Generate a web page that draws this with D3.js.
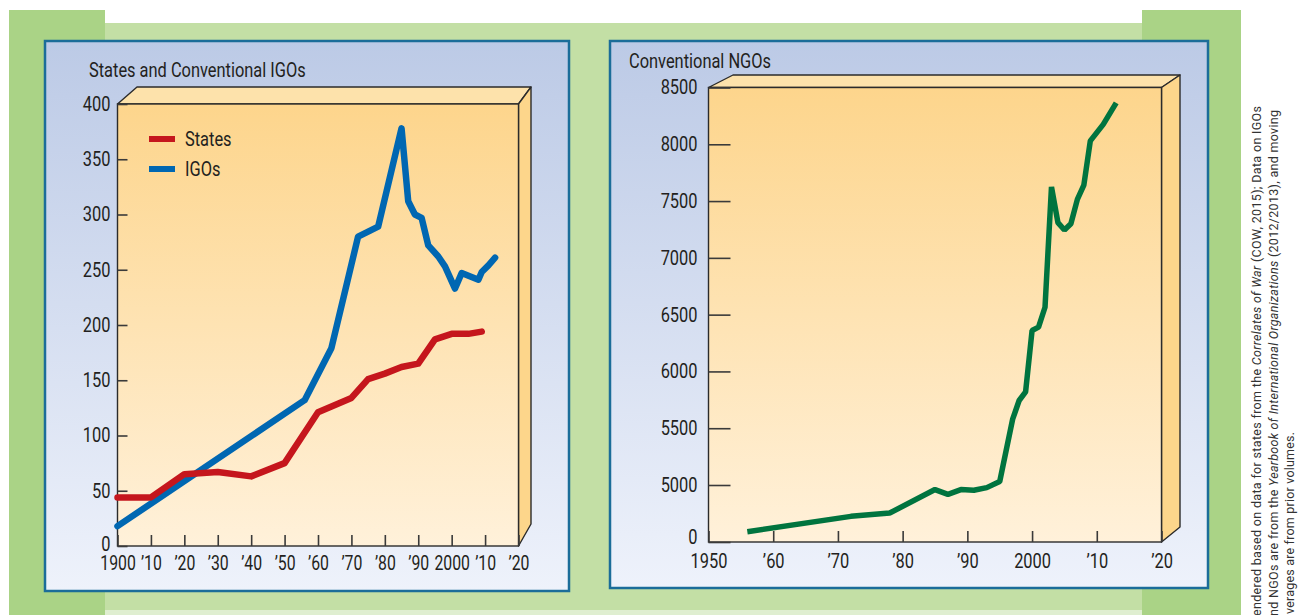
<!DOCTYPE html>
<html>
<head>
<meta charset="utf-8">
<script src="https://cdn.jsdelivr.net/npm/d3@7"></script>
<style>
  html, body { margin: 0; padding: 0; background: #ffffff; }
  svg { display: block; }
  text { font-family: Roboto, 'Liberation Sans', sans-serif; fill: #231f20; }
</style>
</head>
<body>
<script>
// ---------- data ----------
const stateYears  = [1900, 1910, 1920, 1930, 1940, 1950, 1960, 1970, 1975, 1980, 1985, 1990, 1995, 2000, 2005, 2009];
const stateValues = [44, 44, 65, 67, 63, 75, 121, 134, 151, 156, 162, 165, 187, 192, 192, 194];

const igoYears  = [1900, 1956, 1964, 1972, 1978, 1985, 1987, 1989, 1991, 1993, 1996, 1998, 2001, 2003, 2008, 2009, 2011, 2013];
const igoValues = [18, 132, 179, 280, 289, 378, 312, 300, 297, 272, 262, 253, 233, 247, 241, 248, 254, 261];

const ngoYears  = [1956, 1972, 1978, 1985, 1987, 1989, 1991, 1993, 1995, 1997, 1998, 1999, 2000, 2001, 2002, 2003, 2004, 2005, 2006, 2007, 2008, 2009, 2011, 2013];
const ngoValues = [900, 2250, 2540, 4600, 4180, 4600, 4535, 4770, 5030, 5580, 5744, 5820, 6360, 6390, 6565, 7625, 7310, 7245, 7300, 7515, 7640, 8030, 8175, 8365];

const leftXTicks   = [1900, 1910, 1920, 1930, 1940, 1950, 1960, 1970, 1980, 1990, 2000, 2010, 2020];
const leftXLabels  = ["1900", "\u201910", "\u201920", "\u201930", "\u201940", "\u201950", "\u201960", "\u201970", "\u201980", "\u201990", "2000", "\u201910", "\u201920"];
const leftYTicks   = [0, 50, 100, 150, 200, 250, 300, 350, 400];

const rightXTicks  = [1950, 1960, 1970, 1980, 1990, 2000, 2010, 2020];
const rightXLabels = ["1950", "\u201960", "\u201970", "\u201980", "\u201990", "2000", "\u201910", "\u201920"];
const rightYTicks  = [0, 5000, 5500, 6000, 6500, 7000, 7500, 8000, 8500];

const leftTitle  = "States and Conventional IGOs";
const rightTitle = "Conventional NGOs";
const legendLabels = ["States", "IGOs"];

const noteLines = [
  [["endered based on data for states from the ", false], ["Correlates of War", true], [" (COW, 2015); Data on IGOs", false]],
  [["nd NGOs are from the ", false], ["Yearbook of International Organizations", true], [" (2012/2013), and moving", false]],
  [["verages are from prior volumes.", false]]
];

// ---------- drawing ----------
const W = 1310, H = 615;
const COND = 0.82;
const svg = d3.select("body").append("svg").attr("width", W).attr("height", H);
const defs = svg.append("defs");

function condense(sel, k) {
  sel.each(function () {
    const n = this.getComputedTextLength();
    d3.select(this).attr("textLength", n * k).attr("lengthAdjust", "spacingAndGlyphs");
  });
}

const pg = defs.append("linearGradient").attr("id", "panelGrad").attr("x1", 0).attr("y1", 0).attr("x2", 0).attr("y2", 1);
pg.append("stop").attr("offset", "0%").attr("stop-color", "#bccae6");
pg.append("stop").attr("offset", "100%").attr("stop-color", "#eef2fb");

const fg = defs.append("linearGradient").attr("id", "faceGrad").attr("x1", 0).attr("y1", 0).attr("x2", 0).attr("y2", 1);
fg.append("stop").attr("offset", "0%").attr("stop-color", "#fdd58c");
fg.append("stop").attr("offset", "100%").attr("stop-color", "#fff1da");

// background
svg.append("rect").attr("width", W).attr("height", H).attr("fill", "#ffffff");
svg.append("rect").attr("x", 105).attr("y", 23).attr("width", 1037).attr("height", 587).attr("fill", "#c3dfa5");
svg.append("rect").attr("x", 105).attr("y", 610).attr("width", 1037).attr("height", 5).attr("fill", "#dfeed0");
svg.append("rect").attr("x", 9).attr("y", 10).attr("width", 96).attr("height", 605).attr("fill", "#aad386");
svg.append("rect").attr("x", 1142).attr("y", 10).attr("width", 99).attr("height", 605).attr("fill", "#aad386");

// panels
svg.append("rect").attr("x", 45).attr("y", 41).attr("width", 524).attr("height", 550)
  .attr("fill", "url(#panelGrad)").attr("stroke", "#1b6d99").attr("stroke-width", 2.5);
svg.append("rect").attr("x", 610).attr("y", 41).attr("width", 598).attr("height", 547)
  .attr("fill", "url(#panelGrad)").attr("stroke", "#1b6d99").attr("stroke-width", 2.5);

function drawBox(g, x, y, backLeft, backRight, backTop, backBottom) {
  const [x0, x1] = x.range();
  const yr = y.range();
  const y0 = yr[yr.length - 1], y1 = yr[0];
  g.append("polygon")
    .attr("points", [[x0, y0], [backLeft, backTop], [backRight, backTop], [x1, y0]].map(p => p.join(",")).join(" "))
    .attr("fill", "#fde2ab").attr("stroke", "#2b2b2b").attr("stroke-width", 1.4).attr("stroke-linejoin", "round");
  g.append("polygon")
    .attr("points", [[x1, y0], [backRight, backTop], [backRight, backBottom], [x1, y1]].map(p => p.join(",")).join(" "))
    .attr("fill", "#fdd68b").attr("stroke", "#2b2b2b").attr("stroke-width", 1.4).attr("stroke-linejoin", "round");
  g.append("rect").attr("x", x0).attr("y", y0).attr("width", x1 - x0).attr("height", y1 - y0)
    .attr("fill", "url(#faceGrad)").attr("stroke", "#2b2b2b").attr("stroke-width", 1.4);
}

function styleAxis(k) {
  return function (g) {
    g.select(".domain").remove();
    g.selectAll(".tick line").attr("stroke", "#3a3a3a").attr("stroke-width", 1.6);
    g.selectAll(".tick text").attr("font-size", 20).attr("fill", "#231f20")
      .attr("font-family", "Roboto, 'Liberation Sans', sans-serif");
    condense(g.selectAll(".tick text"), k);
  };
}

// ---- left chart ----
const lx = d3.scaleLinear().domain([1900, 2020]).range([117.5, 518.5]);
const ly = d3.scaleLinear().domain([0, 400]).range([546, 104]);
const left = svg.append("g");
drawBox(left, lx, ly, 137, 531, 87, 524);

left.append("g").attr("transform", "translate(0,546)")
  .call(d3.axisBottom(lx).tickValues(leftXTicks).tickSize(-11).tickPadding(10)
    .tickFormat((d, i) => leftXLabels[i]))
  .call(styleAxis(0.79));
const lyAxis = left.append("g").attr("transform", "translate(117.5,0)")
  .call(d3.axisLeft(ly).tickValues(leftYTicks).tickSize(-10).tickPadding(7).tickFormat(d3.format("d")))
  .call(styleAxis(COND));
lyAxis.selectAll(".tick text").filter(d => d === 0).attr("y", -2);

const lineL = (xs, vs) => d3.line().x((d, i) => lx(xs[i])).y(d => ly(d))(vs);
left.append("path").attr("d", lineL(igoYears, igoValues)).attr("fill", "none")
  .attr("stroke", "#0067b2").attr("stroke-width", 6.5).attr("stroke-linejoin", "round").attr("stroke-linecap", "round");
left.append("path").attr("d", lineL(stateYears, stateValues)).attr("fill", "none")
  .attr("stroke", "#c5161d").attr("stroke-width", 6.5).attr("stroke-linejoin", "round").attr("stroke-linecap", "round");

const lt = left.append("text").attr("x", 89).attr("y", 76.5).attr("font-size", 20).text(leftTitle);
condense(lt, COND);

const legendColors = ["#c5161d", "#0067b2"];
legendLabels.forEach((lab, i) => {
  const yy = 139 + i * 30;
  left.append("line").attr("x1", 149).attr("x2", 175).attr("y1", yy).attr("y2", yy)
    .attr("stroke", legendColors[i]).attr("stroke-width", 6);
  const t = left.append("text").attr("x", 185).attr("y", yy + 7).attr("font-size", 20).text(lab);
  condense(t, COND);
});

// ---- right chart ----
const rx = d3.scaleLinear().domain([1950, 2020]).range([708.5, 1161.5]);
const ry = d3.scaleLinear().domain([0, 5000, 8500]).range([542, 485, 87.5]);
const right = svg.append("g");
drawBox(right, rx, ry, 733, 1180, 75, 527);

right.append("g").attr("transform", "translate(0,542)")
  .call(d3.axisBottom(rx).tickValues(rightXTicks).tickSize(-11).tickPadding(12)
    .tickFormat((d, i) => rightXLabels[i]))
  .call(styleAxis(COND));
const ryAxis = right.append("g").attr("transform", "translate(708.5,0)")
  .call(d3.axisLeft(ry).tickValues(rightYTicks).tickSize(-22).tickPadding(11).tickFormat(d3.format("d")))
  .call(styleAxis(COND));
ryAxis.selectAll(".tick text").filter(d => d === 0).attr("y", -5);

right.append("path")
  .attr("d", d3.line().x((d, i) => rx(ngoYears[i])).y(d => ry(d))(ngoValues))
  .attr("fill", "none").attr("stroke", "#00743f").attr("stroke-width", 5.5)
  .attr("stroke-linejoin", "bevel").attr("stroke-linecap", "butt");

const rt = right.append("text").attr("x", 629).attr("y", 68).attr("font-size", 20).text(rightTitle);
condense(rt, COND);

// ---- side note (rotated) ----
const noteX = [1261, 1277.5, 1294];
const noteStart = [616, 616, 614];
const noteEnd = [106, 110, 432];
noteLines.forEach((parts, i) => {
  const t = svg.append("text")
    .attr("transform", `translate(${noteX[i]},${noteStart[i]}) rotate(-90)`)
    .attr("font-size", 12.5).attr("fill", "#333333")
    .attr("textLength", noteStart[i] - noteEnd[i]).attr("lengthAdjust", "spacing");
  parts.forEach(([s, it]) => {
    t.append("tspan").attr("font-style", it ? "italic" : "normal").attr("fill", "#333333").text(s);
  });
});
</script>
</body>
</html>
